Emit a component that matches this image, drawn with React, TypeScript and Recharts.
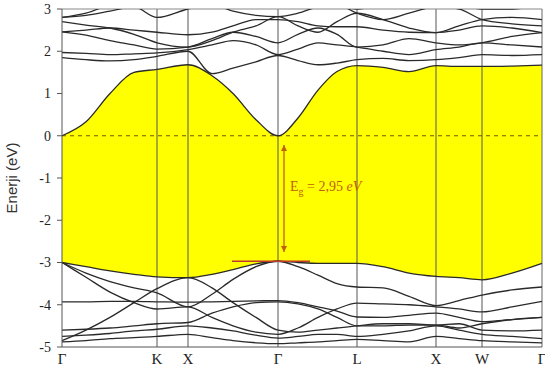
import { ComposedChart, Area, Line, XAxis, YAxis, ReferenceLine, ReferenceDot } from 'recharts';

// k-path sample points (path length units) and high-symmetry points
const kPoints = [0, 24, 48, 72, 95, 126, 150, 171, 194, 216, 236, 256, 275, 295, 321, 347, 374, 397, 420, 450, 480];
const symK = [0, 95, 126, 216, 295, 374, 420, 480];
const symLabels = ['Γ', 'K', 'X', 'Γ', 'L', 'X', 'W', 'Γ'];
const yTicks = [-5, -4, -3, -2, -1, 0, 1, 2, 3];

// conduction bands (eV)
const cbm = [0, 0.33, 1.0, 1.5, 1.57, 1.68, 1.42, 1.0, 0.38, 0, 0.42, 1.08, 1.52, 1.66, 1.62, 1.52, 1.66, 1.64, 1.64, 1.65, 1.67];
const c2 = [1.85, 1.8, 1.77, 1.8, 1.88, 2.0, 1.47, 1.6, 1.75, 1.9, 1.78, 1.68, 1.72, 1.8, 1.83, 1.78, 1.8, 1.85, 1.92, 1.9, 1.92];
const c3 = [1.97, 1.95, 1.92, 1.94, 1.96, 2.04, 2.15, 2.25, 2.15, 1.92, 2.05, 2.2, 2.15, 2.1, 2.0, 1.92, 2.04, 2.1, 2.2, 2.15, 2.1];
const c4 = [2.46, 2.38, 2.25, 2.15, 2.05, 2.1, 2.3, 2.45, 2.35, 2.2, 2.4, 2.55, 2.4, 2.1, 2.15, 2.3, 2.2, 2.15, 2.2, 2.35, 2.44];
const c5 = [2.46, 2.5, 2.55, 2.5, 2.45, 2.39, 2.45, 2.6, 2.75, 2.75, 2.7, 2.6, 2.58, 2.58, 2.5, 2.45, 2.44, 2.5, 2.6, 2.55, 2.44];
const c6 = [2.7, 2.62, 2.55, 2.4, 2.2, 2.1, 2.25, 2.45, 2.6, 2.82, 2.6, 2.45, 2.7, 2.9, 2.75, 2.55, 2.44, 2.6, 2.75, 2.8, 2.75];
const c7 = [2.8, 2.85, 2.95, 3.05, 2.8, 3.0, 3.1, 2.95, 2.85, 2.82, 2.9, 3.05, 3.1, 2.9, 2.75, 2.9, 3.05, 3.0, 2.75, 2.65, 2.6];
const c8 = [2.8, 2.9, 3.1, 3.2, 3.1, 3.05, 3.2, 3.2, 3.1, 3.05, 3.2, 3.2, 3.1, 3.0, 3.1, 3.2, 3.2, 3.1, 3.0, 3.0, 3.1];

// valence bands (eV)
const vbm = [-3.0, -3.1, -3.2, -3.28, -3.34, -3.36, -3.28, -3.17, -3.03, -2.97, -3.0, -3.02, -3.02, -3.02, -3.1, -3.25, -3.33, -3.36, -3.41, -3.25, -3.02];
const v2 = [-3.0, -3.25, -3.45, -3.6, -3.72, -4.05, -3.75, -3.4, -3.1, -2.97, -3.1, -3.3, -3.5, -3.58, -3.6, -3.8, -4.02, -3.9, -3.77, -3.65, -3.58];
const v3 = [-3.0, -3.35, -3.7, -3.95, -4.1, -4.05, -4.3, -4.5, -4.65, -4.7, -4.55, -4.3, -4.1, -3.96, -3.98, -4.0, -4.05, -4.1, -4.17, -4.05, -3.92];
const v4 = [-3.93, -3.93, -3.92, -3.92, -3.93, -3.94, -3.93, -3.92, -3.91, -3.9, -3.95, -4.05, -4.15, -4.29, -4.3, -4.25, -4.2, -4.3, -4.4, -4.35, -4.3];
const v5 = [-4.85, -4.6, -4.3, -3.95, -3.62, -3.36, -3.6, -3.95, -4.3, -4.6, -4.65, -4.6, -4.55, -4.5, -4.45, -4.45, -4.48, -4.45, -4.6, -4.62, -4.6];
const v6 = [-4.6, -4.58, -4.55, -4.5, -4.45, -4.42, -4.2, -4.05, -3.95, -3.93, -3.98, -4.1, -4.3, -4.5, -4.5, -4.48, -4.48, -4.55, -4.45, -4.35, -4.3];
const v7 = [-4.75, -4.72, -4.68, -4.62, -4.58, -4.5, -4.55, -4.62, -4.72, -4.79, -4.75, -4.7, -4.7, -4.75, -4.7, -4.62, -4.5, -4.6, -4.7, -4.75, -4.8];
const v8 = [-4.88, -4.85, -4.8, -4.78, -4.75, -4.7, -4.78, -4.85, -4.9, -4.92, -4.9, -4.88, -4.85, -4.82, -4.85, -4.88, -4.75, -4.8, -4.85, -4.88, -4.9];

// band gap annotation
const gapK = 222;
const gapTop = -0.22;
const gapBottom = -2.75;
const vbmMarkFrom = 170;
const vbmMarkTo = 248;
const vbmMarkE = -2.97;

const bands: Record<string, number[]> = { cbm, c2, c3, c4, c5, c6, c7, c8, vbm, v2, v3, v4, v5, v6, v7, v8 };

const data = kPoints.map((k, i) => {
  const row: Record<string, any> = { k, gap: [vbm[i], cbm[i]] };
  Object.keys(bands).forEach((name) => {
    row[name] = bands[name][i];
  });
  return row;
});

const serif = "'Liberation Serif', 'Times New Roman', serif";
const gapColor = '#c0600f';

const ArrowHead = ({ cx, cy, up }: { cx?: number; cy?: number; up: boolean }) => {
  if (cx == null || cy == null) return <g />;
  const d = up ? `M${cx},${cy} L${cx - 3},${cy + 6} L${cx + 3},${cy + 6} Z` : `M${cx},${cy} L${cx - 3},${cy - 6} L${cx + 3},${cy - 6} Z`;
  return <path d={d} fill={gapColor} />;
};

const GapLabel = ({ cx, cy }: { cx?: number; cy?: number }) => {
  if (cx == null || cy == null) return <g />;
  return (
    <text x={cx} y={cy} fill={gapColor} fontFamily={serif} fontSize={14}>
      E<tspan fontSize={10} dy={4}>g</tspan>
      <tspan dy={-4}> = 2,95 </tspan>
      <tspan fontStyle="italic">eV</tspan>
    </text>
  );
};

export default function App() {
  return (
    <div style={{ position: 'absolute', left: 0, top: 0, background: '#fff' }}>
      <ComposedChart width={545} height={372} data={data} margin={{ top: 9, right: 3, bottom: 0, left: 0 }}>
        <XAxis
          dataKey="k"
          type="number"
          domain={[0, 480]}
          ticks={symK}
          tickFormatter={(v: number) => symLabels[symK.indexOf(v)]}
          interval={0}
          height={25}
          tickSize={0}
          tickMargin={6}
          stroke="#555"
          tick={{ fontFamily: serif, fontSize: 15, fill: '#222' }}
        />
        <YAxis
          type="number"
          domain={[-5, 3]}
          ticks={yTicks}
          allowDataOverflow
          width={62}
          tickSize={5}
          tickMargin={6}
          stroke="#555"
          tick={{ fontFamily: serif, fontSize: 14, fill: '#222' }}
          label={{
            value: 'Enerji (eV)',
            angle: -90,
            position: 'insideLeft',
            offset: 12,
            style: { fontFamily: "'Liberation Sans', Arial, sans-serif", fontSize: 15, fill: '#333', textAnchor: 'middle' },
          }}
        />
        <Area dataKey="gap" type="monotone" stroke="none" fill="#ffff00" fillOpacity={1} isAnimationActive={false} />
        {symK.slice(1, -1).map((k, i) => (
          <ReferenceLine key={i} x={k} stroke="#555" strokeWidth={1} />
        ))}
        <ReferenceLine x={480} stroke="#666" strokeWidth={1} />
        <ReferenceLine y={3} stroke="#888" strokeWidth={1} />
        <ReferenceLine y={0} stroke="#6b5a10" strokeDasharray="4 4" strokeWidth={1} />
        {Object.keys(bands).map((name) => (
          <Line
            key={name}
            dataKey={name}
            type="monotone"
            stroke="#2a2a2a"
            strokeWidth={1.3}
            dot={false}
            isAnimationActive={false}
          />
        ))}
        <ReferenceLine
          segment={[{ x: vbmMarkFrom, y: vbmMarkE }, { x: vbmMarkTo, y: vbmMarkE }]}
          stroke="#c0392b"
          strokeWidth={1.5}
        />
        <ReferenceLine
          segment={[{ x: gapK, y: gapTop }, { x: gapK, y: gapBottom }]}
          stroke={gapColor}
          strokeWidth={1.3}
        />
        <ReferenceDot x={gapK} y={gapTop} r={0} shape={(p: any) => <ArrowHead cx={p.cx} cy={p.cy} up />} />
        <ReferenceDot x={gapK} y={gapBottom} r={0} shape={(p: any) => <ArrowHead cx={p.cx} cy={p.cy} up={false} />} />
        <ReferenceDot x={228} y={-1.3} r={0} shape={(p: any) => <GapLabel cx={p.cx} cy={p.cy} />} />
      </ComposedChart>
    </div>
  );
}
